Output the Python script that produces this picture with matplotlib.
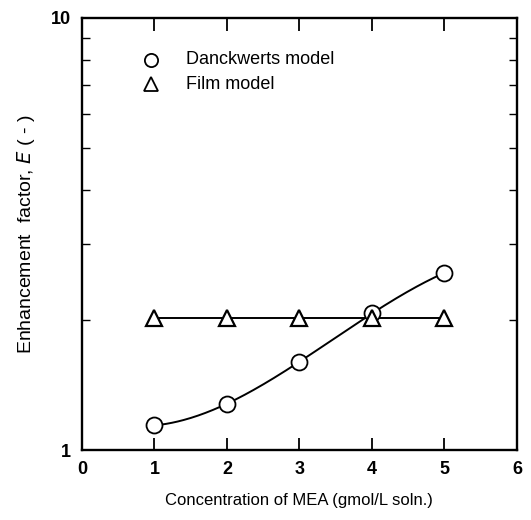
import matplotlib
matplotlib.use('Agg')
import matplotlib.pyplot as plt
import numpy as np
from matplotlib import ticker

plt.rc('font', family=['Liberation Sans', 'DejaVu Sans'], size=12)

# data
conc = [1, 2, 3, 4, 5]
E_danckwerts = [1.14, 1.28, 1.60, 2.07, 2.57]
E_film = [2.02, 2.02, 2.02, 2.02, 2.02]

fig = plt.figure(figsize=(5.31, 5.20), dpi=100)
ax = fig.add_axes([0.1544, 0.1346, 0.819, 0.831])

# smooth fit curve through the Danckwerts points (cubic in log E)
c = np.polyfit(conc, np.log10(E_danckwerts), 3)
xs = np.linspace(conc[0], conc[-1], 200)
ax.plot(xs, 10**np.polyval(c, xs), '-', color='k', lw=1.4, zorder=1)
ax.plot(conc, E_film, '-', color='k', lw=1.4, zorder=1)

ax.plot(conc, E_danckwerts, linestyle='None', marker='o', markersize=11.5,
        markerfacecolor='white', markeredgecolor='k', markeredgewidth=1.3, zorder=3)
ax.plot(conc, E_film, linestyle='None', marker='^', markersize=11.5,
        markerfacecolor='white', markeredgecolor='k', markeredgewidth=1.6, zorder=3)

ax.set_yscale('log')
ax.set_xlim(0, 6)
ax.set_ylim(1, 10)
ax.set_xticks(np.arange(0, 7, 1))
ax.set_yticks([1, 10])
ax.yaxis.set_major_formatter(ticker.FormatStrFormatter('%d'))
ax.yaxis.set_minor_locator(ticker.LogLocator(subs=np.arange(2, 10)))
ax.yaxis.set_minor_formatter(ticker.NullFormatter())

ax.tick_params(axis='both', which='major', direction='in', length=9, width=1.3,
               top=True, right=True, labelsize=13, pad=8)
ax.tick_params(axis='y', which='minor', direction='in', length=6, width=1.0, right=True)
for lab in ax.get_xticklabels() + ax.get_yticklabels():
    lab.set_fontweight('bold')
for s in ax.spines.values():
    s.set_linewidth(1.7)

ax.set_xlabel('Concentration of MEA (gmol/L soln.)', fontsize=12, labelpad=11)
ax.set_ylabel('Enhancement  factor, $\\it{E}$ ( - )', fontsize=14, labelpad=10)

# legend drawn as in the original
ax.plot([0.95], [8.0], linestyle='None', marker='o', markersize=9.5,
        markerfacecolor='white', markeredgecolor='k', markeredgewidth=1.3)
ax.plot([0.95], [7.03], linestyle='None', marker='^', markersize=9.5,
        markerfacecolor='white', markeredgecolor='k', markeredgewidth=1.3)
ax.text(1.43, 8.0, 'Danckwerts model', fontsize=13, va='center')
ax.text(1.43, 7.03, 'Film model', fontsize=13, va='center')

plt.savefig('out.png', dpi=100)
